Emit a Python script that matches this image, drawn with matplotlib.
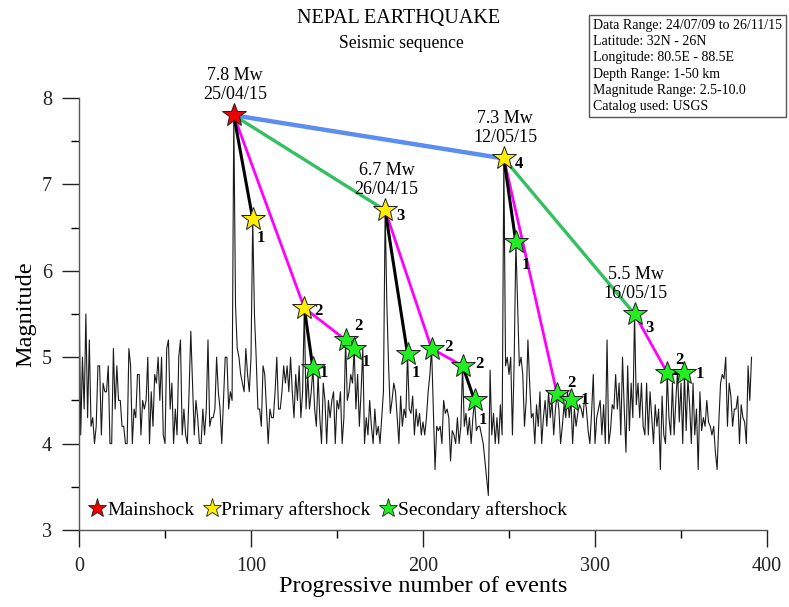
import matplotlib
matplotlib.use("Agg")
import matplotlib.pyplot as plt
from matplotlib.ticker import MultipleLocator
from matplotlib.lines import Line2D

plt.rcParams['font.family'] = ['Liberation Serif', 'DejaVu Serif']

# ---------------- data ----------------
# magnitude of each event, in progressive order (events 0..391)
mag_0_89 = [5.8, 4.1, 5.0, 4.4, 5.5, 4.3, 5.2, 4.2, 4.3, 4.0, 4.2, 4.9, 4.9, 4.1, 4.7, 4.6, 4.6, 4.9, 4.0, 4.0,
            5.1, 4.4, 4.9, 4.5, 4.5, 4.2, 4.2, 4.0, 4.0, 5.1, 4.9, 4.0, 4.4, 4.3, 4.8, 4.8, 4.1, 4.5, 4.4, 4.5,
            5.0, 4.0, 4.6, 4.2, 4.8, 4.7, 5.0, 4.5, 5.0, 4.1, 4.0, 5.1, 5.2, 4.4, 4.7, 4.0, 4.4, 4.1, 5.0, 5.2,
            4.1, 4.4, 4.1, 4.0, 4.6, 5.3, 4.7, 4.1, 4.5, 4.3, 4.0, 4.0, 4.4, 4.1, 4.4, 5.2, 4.2, 4.3, 4.3, 4.4,
            5.0, 4.6, 4.4, 4.0, 4.5, 5.0, 5.0, 4.4, 4.6, 4.5]
mag_90_131 = [7.8, 5.6, 5.1, 5.0, 4.8, 4.7, 4.6, 5.1, 4.8, 4.6, 5.0, 6.6,
              5.5, 5.0, 4.4, 4.4, 4.2, 4.9, 4.8, 4.4, 4.0, 4.4, 4.3, 4.3, 4.6, 5.0, 4.4, 4.4, 4.6, 4.9,
              4.7, 4.9, 4.6, 5.0, 4.6, 4.3, 4.8, 4.5, 4.9, 4.3, 4.6, 5.57]
mag_132_191 = [4.4, 4.8, 4.4, 4.6, 4.87, 4.4, 4.2, 4.8, 4.3, 4.0, 4.7, 4.5, 4.0, 4.5, 4.3, 4.5, 4.6, 4.0, 4.5, 4.4,
               4.6, 4.0, 4.3, 5.2, 4.5, 4.6, 4.8, 4.7, 5.1, 4.4, 4.8, 4.2, 4.6, 5.1, 4.0, 4.3, 4.1, 4.5, 4.2, 4.0,
               4.4, 4.1, 4.2, 4.0, 4.3, 4.6, 6.7, 5.6, 4.9, 4.35, 4.5, 4.7, 4.6, 4.3, 4.0, 4.55, 4.2, 4.4, 4.3, 5.04]
mag_192_247 = [4.4, 4.35, 4.55, 4.1, 4.4, 4.2, 4.35, 4.1, 4.25, 4.1, 4.3, 4.6, 4.8, 5.1, 4.4, 3.7, 4.2, 4.15, 4.2, 4.0,
               4.5, 4.35, 4.4, 4.3, 3.8, 4.15, 4.1, 4.0, 4.3, 4.0, 4.2, 4.9, 4.2, 4.35, 4.1, 4.3, 4.0, 4.3, 4.5, 4.15,
               4.2, 4.2, 4.1, 4.0, 3.8, 3.6, 3.4, 4.85, 4.1, 4.35, 4.0, 4.3, 4.0, 4.45, 4.1, 7.3]
mag_248_323 = [4.9, 5.0, 4.8, 5.0, 4.1, 4.95, 6.33, 5.6, 4.9, 5.0, 4.8, 4.2, 4.5, 5.2, 4.7, 4.3, 4.35, 4.0, 4.45, 4.2,
               4.6, 4.0, 4.3, 4.5, 4.2, 4.6, 4.3, 4.5, 4.1, 4.4, 4.57, 4.4, 4.0, 4.2, 4.45, 4.3, 4.6, 4.3, 4.5, 4.0,
               4.4, 4.2, 4.35, 4.45, 4.4, 4.3, 4.55, 4.4, 4.15, 4.0, 4.35, 4.8, 4.0, 4.3, 4.4, 4.5, 4.1, 4.45, 4.0, 5.2,
               4.0, 4.15, 4.45, 4.4, 4.8, 4.4, 4.7, 4.1, 5.0, 4.4, 3.9, 4.9, 4.15, 4.7, 4.3, 5.5]
mag_324_391 = [4.45, 4.7, 4.3, 4.7, 4.2, 4.1, 4.7, 4.1, 4.6, 4.3, 4.0, 4.45, 4.2, 4.4, 3.7, 4.55, 4.1, 4.0, 4.82,
               4.3, 4.1, 4.7, 4.1, 4.5, 4.85, 4.25, 4.7, 4.0, 4.82,
               4.15, 4.75, 4.45, 4.0, 4.7, 4.1, 4.4, 3.7, 4.6, 4.15, 4.3, 4.2, 4.5, 4.25, 4.2, 4.1, 4.2, 3.9, 3.7,
               4.25, 4.7, 4.8, 4.75, 5.0, 4.2, 4.7, 4.55, 4.2, 4.4, 4.4, 4.55, 4.0, 4.45, 4.3, 4.25, 4.0, 4.9, 4.5, 5.0]
magnitudes = mag_0_89 + mag_90_131 + mag_132_191 + mag_192_247 + mag_248_323 + mag_324_391
events = list(range(len(magnitudes)))

# classified events (event index)
mainshock_idx = [90]
primary_idx = [101, 131, 178, 247]
primary_rank = ['1', '2', '3', '4']
secondary_idx = [136, 155, 160, 191, 205, 223, 230, 254, 278, 286, 323, 342, 352]
secondary_rank = ['1', '2', '1', '1', '2', '2', '1', '1', '2', '1', '3', '2', '1']

# annotated major events
major_idx = [90, 178, 247, 323]
major_text = ['7.8 Mw\n25/04/15', '6.7 Mw\n26/04/15', '7.3 Mw\n12/05/15', '5.5 Mw\n16/05/15']

# link lines (event index chains)
blue_links = [[90, 247]]
green_links = [[90, 178], [247, 323]]
magenta_links = [[90, 131, 155], [178, 205, 223], [247, 278], [323, 342]]
black_links = [[90, 101], [131, 136], [155, 160], [178, 191], [223, 230], [247, 254], [278, 286], [342, 352]]

info_lines = ['Data Range: 24/07/09 to 26/11/15', 'Latitude: 32N - 26N', 'Longitude: 80.5E - 88.5E',
              'Depth Range: 1-50 km', 'Magnitude Range: 2.5-10.0', 'Catalog used: USGS']

# ---------------- plot ----------------
W, H = 789, 607
fig = plt.figure(figsize=(W / 100, H / 100), dpi=100)
ax = fig.add_axes([79 / W, 1 - 530 / H, (767 - 79) / W, (530 - 98) / H])

ax.plot(events, magnitudes, color='#1a1a1a', lw=0.8, zorder=2)

def mag(i):
    return magnitudes[i]

for chain in blue_links:
    ax.plot(chain, [mag(i) for i in chain], color='#5b8ef0', lw=3.2, zorder=3, solid_capstyle='round')
for chain in green_links:
    ax.plot(chain, [mag(i) for i in chain], color='#33c060', lw=2.4, zorder=3, solid_capstyle='round')
for chain in magenta_links:
    ax.plot(chain, [mag(i) for i in chain], color='#ff00ff', lw=2.0, zorder=3, solid_capstyle='round')
for chain in black_links:
    ax.plot(chain, [mag(i) for i in chain], color='black', lw=2.2, zorder=4, solid_capstyle='round')

star_kw = dict(marker='*', ms=18, mec='#202020', mew=0.7, ls='none', zorder=6, clip_on=False)
ax.plot(secondary_idx, [mag(i) for i in secondary_idx], mfc='#22ee22', **star_kw)
ax.plot(primary_idx, [mag(i) for i in primary_idx], mfc='#ffee00', **star_kw)
ax.plot(mainshock_idx, [mag(i) for i in mainshock_idx], mfc='#ee0000', **star_kw)

num_kw = dict(fontsize=12, fontweight='bold', zorder=7, va='center', ha='left')
# offsets in points for rank labels
prim_off = [(3, -14), (7, -2), (8, -4), (8, -4)]
sec_off = [(5, -3), (6, 10), (5, -10), (3, -14), (9, 1), (9, 1), (3, -14), (4, -16), (7, 8), (7, 0), (8, -10), (6, 9), (8, -1)]
for i, r, (dx, dy) in zip(primary_idx, primary_rank, prim_off):
    ax.annotate(r, (i, mag(i)), xytext=(dx, dy), textcoords='offset points', **num_kw)
for i, r, (dx, dy) in zip(secondary_idx, secondary_rank, sec_off):
    ax.annotate(r, (i, mag(i)), xytext=(dx, dy), textcoords='offset points', **num_kw)

for i, t in zip(major_idx, major_text):
    ax.annotate(t, (i, mag(i)), xytext=(1, 9), textcoords='offset points', ha='center', va='bottom',
                fontsize=13, linespacing=1.15, annotation_clip=False)

ax.set_xlim(0, 400)
ax.set_ylim(3, 8)
ax.xaxis.set_major_locator(MultipleLocator(100))
ax.xaxis.set_minor_locator(MultipleLocator(50))
ax.yaxis.set_major_locator(MultipleLocator(1))
ax.yaxis.set_minor_locator(MultipleLocator(0.5))
ax.tick_params(which='major', direction='out', length=12.5, width=1.0, labelsize=14.5, pad=7, colors='#222222')
ax.tick_params(which='minor', direction='out', length=6, width=1.0)
for s in ['top', 'right']:
    ax.spines[s].set_visible(False)
for s in ['left', 'bottom']:
    ax.spines[s].set_color('#555555')
    ax.spines[s].set_linewidth(1.0)

ax.set_xlabel('Progressive number of events', fontsize=17.5, labelpad=0)
ax.set_ylabel('Magnitude', fontsize=17.5, labelpad=4)

fig.text(399 / W, 1 - 19 / H, 'NEPAL EARTHQUAKE', ha='center', va='center', fontsize=14.5)
fig.text(401 / W, 1 - 43 / H, 'Seismic sequence', ha='center', va='center', fontsize=12.7)

# info box
fig.text(593 / W, 1 - 66 / H, '\n'.join(info_lines), ha='left', va='center', fontsize=10, linespacing=1.33,
         bbox=dict(boxstyle='square,pad=0.3', fc='white', ec='#555555', lw=1.0))

handles = [Line2D([], [], marker='*', ms=14, mec='#202020', mew=0.6, ls='none', mfc=c)
           for c in ['#ee0000', '#ffee00', '#22ee22']]
ax.legend(handles, ['Mainshock', 'Primary aftershock', 'Secondary aftershock'], loc='lower left',
          bbox_to_anchor=(-0.01, -0.014), ncol=3, frameon=False, fontsize=14, handlelength=0.8,
          handletextpad=0.1, columnspacing=0.5, borderaxespad=0.5)

fig.savefig('out.png', dpi=100)
